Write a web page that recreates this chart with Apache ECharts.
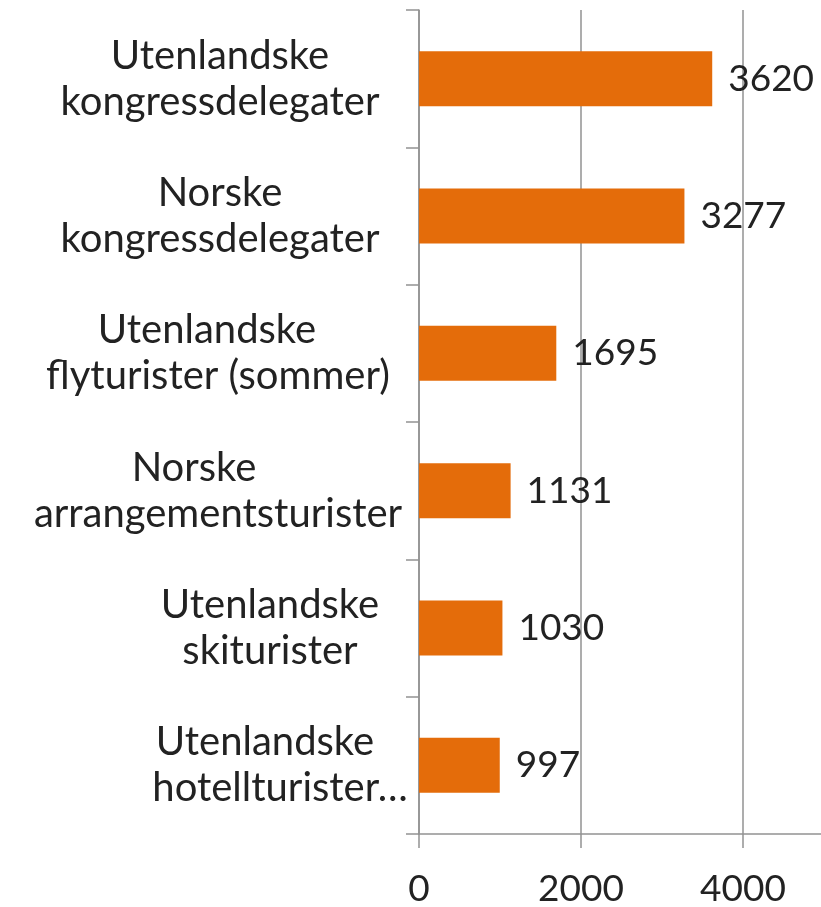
<!DOCTYPE html>
<html>
<head>
<meta charset="utf-8">
<script src="https://cdn.jsdelivr.net/npm/echarts@6/dist/echarts.min.js"></script>
<style>
  html, body { margin: 0; padding: 0; background: #fff; }
  #chart { width: 821px; height: 907px; }
</style>
</head>
<body>
<div id="chart"></div>
<script>
const categories = [
  'Utenlandske\nkongressdelegater',
  'Norske\nkongressdelegater',
  'Utenlandske\nflyturister (sommer)',
  'Norske\narrangementsturister',
  'Utenlandske\nskiturister',
  'Utenlandske\nhotellturister…'
]
const values = [3620, 3277, 1695, 1131, 1030, 997]
const xTicks = { min: 0, max: 5000, interval: 2000 }

// where each line of the category labels is centred (px from the left edge)
const labelCenters = [[220, 220], [220, 220], [207, 218], [194, 218], [270, 270], [265, 280]]

const font = 'Lato'
const textColor = '#222'
const axisColor = '#929292'
const barColor = '#E46C0A'
const axisX = 419
const labelAnchor = 220

const rich = {}
labelCenters.forEach((lines, i) => {
  lines.forEach((c, j) => {
    const shift = 2 * (c - labelAnchor)
    rich['l' + i + '_' + j] = {
      fontFamily: font,
      fontSize: 40,
      color: textColor,
      lineHeight: 46,
      align: 'center',
      padding: [0, shift < 0 ? -shift : 0, 0, shift > 0 ? shift : 0]
    }
  })
})

const chart = echarts.init(document.getElementById('chart'))
chart.setOption({
  animation: false,
  grid: { left: axisX, right: -3, top: 10, bottom: 73, outerBoundsMode: 'none' },
  xAxis: {
    type: 'value',
    min: xTicks.min,
    max: xTicks.max,
    interval: xTicks.interval,
    axisLine: { show: true, lineStyle: { color: axisColor, width: 1.5 } },
    axisTick: { show: true, length: 14, lineStyle: { color: axisColor, width: 1.5 } },
    splitLine: { show: true, lineStyle: { color: axisColor, width: 1.5 } },
    axisLabel: {
      showMaxLabel: false,
      margin: 37,
      fontFamily: font,
      fontSize: 37,
      color: textColor,
      formatter: v => String(v)
    }
  },
  yAxis: {
    type: 'category',
    inverse: true,
    data: categories,
    axisLine: { show: true, lineStyle: { color: axisColor, width: 1.5 } },
    axisTick: { show: true, length: 13, lineStyle: { color: axisColor, width: 1.5 } },
    axisLabel: {
      align: 'center',
      margin: axisX - labelAnchor,
      interval: 0,
      formatter: (value, index) => value.split('\n').map((l, j) => '{l' + index + '_' + j + '|' + l + '}').join('\n'),
      rich: rich
    }
  },
  series: [{
    type: 'bar',
    data: values,
    barCategoryGap: '60%',
    itemStyle: { color: barColor },
    label: {
      show: true,
      position: 'right',
      distance: 16,
      fontFamily: font,
      fontSize: 37,
      color: textColor
    }
  }]
})
</script>
</body>
</html>
